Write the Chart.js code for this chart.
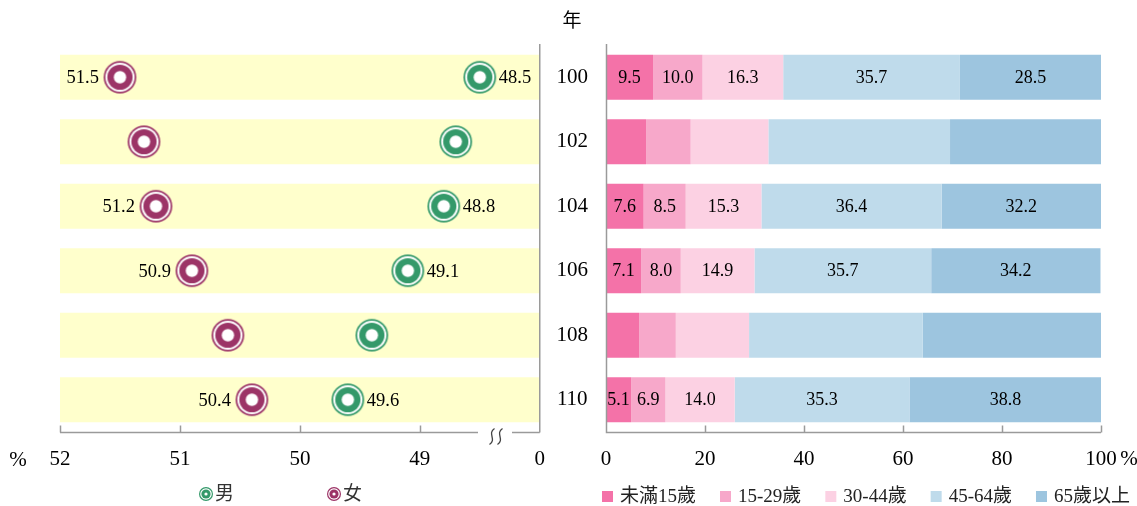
<!DOCTYPE html>
<html><head><meta charset="utf-8">
<script src="https://cdn.jsdelivr.net/npm/chart.js@4.4.1/dist/chart.umd.min.js"></script>
<style>
html,body{margin:0;padding:0;background:#fff;}
#wrap{position:relative;width:1137px;height:506px;overflow:hidden;}
#lw{position:absolute;left:0;top:0;width:560px;height:506px;}
#rw{position:absolute;left:540px;top:0;width:597px;height:506px;}
</style></head><body>
<div id="wrap"><div id="lw"><canvas id="lc"></canvas></div><div id="rw"><canvas id="rc"></canvas></div></div>
<script>
// ---------- data ----------
const years = ['100', '102', '104', '106', '108', '110'];
const sexLabels = ['男', '女'];
const maleShare = [48.5, 48.7, 48.8, 49.1, 49.4, 49.6];
const femaleShare = [51.5, 51.3, 51.2, 50.9, 50.6, 50.4];
const showShareLabel = [true, false, true, true, false, true];

const ageGroups = ['未滿15歲', '15-29歲', '30-44歲', '45-64歲', '65歲以上'];
const age0to14 = [9.5, 8.1, 7.6, 7.1, 6.7, 5.1];
const age15to29 = [10.0, 9.0, 8.5, 8.0, 7.4, 6.9];
const age30to44 = [16.3, 15.7, 15.3, 14.9, 14.8, 14.0];
const age45to64 = [35.7, 36.7, 36.4, 35.7, 35.1, 35.3];
const age65plus = [28.5, 30.5, 32.2, 34.2, 36.0, 38.8];
const showAgeLabel = [true, false, true, true, false, true];

const leftTicks = [52, 51, 50, 49, 48];   // 48 is drawn as "0" (axis break)
const rightTicks = [0, 20, 40, 60, 80, 100];

// ---------- styles ----------
const SERIF = "'Liberation Serif', 'Noto Sans CJK TC', serif";
const maleColor = '#34996a';
const femaleColor = '#9c3467';
const bandColor = '#ffffcc';
const ageColors = ['#f472a8', '#f7a8ca', '#fcd1e3', '#bfdbeb', '#9dc5df'];
const axisColor = '#9a9a9a';

function makeMarker(color, r1, r2, r3, r4) {
  const s = Math.ceil(r1 * 2 + 2);
  const c = document.createElement('canvas');
  c.width = s; c.height = s;
  const g = c.getContext('2d');
  const m = s / 2;
  [[r1, color], [r2, '#fff'], [r3, color], [r4, '#fff']].forEach(([r, col]) => {
    g.beginPath(); g.arc(m, m, r, 0, Math.PI * 2); g.fillStyle = col; g.fill();
  });
  return c;
}
const maleMarker = makeMarker(maleColor, 16.3, 14.6, 12.6, 6.2);
const femaleMarker = makeMarker(femaleColor, 16.3, 14.6, 12.6, 6.2);
const maleLegendMarker = makeMarker(maleColor, 7, 5.8, 4.6, 1.6);
const femaleLegendMarker = makeMarker(femaleColor, 7, 5.8, 4.6, 1.6);

// ---------- left chart ----------
const leftDecor = {
  id: 'leftDecor',
  afterDraw(chart) {
    const ctx = chart.ctx, a = chart.chartArea, xs = chart.scales.x;
    const y0 = Math.round(a.bottom) + 0.5;
    ctx.save();
    ctx.strokeStyle = axisColor; ctx.lineWidth = 1.5;
    // right border line
    ctx.beginPath(); ctx.moveTo(a.right, a.top - 1); ctx.lineTo(a.right, y0); ctx.stroke();
    // axis line with break
    const bx1 = 478, bx2 = 512;
    ctx.beginPath(); ctx.moveTo(a.left, y0); ctx.lineTo(bx1, y0);
    ctx.moveTo(bx2, y0); ctx.lineTo(a.right, y0); ctx.stroke();
    // ticks upward
    leftTicks.forEach(v => {
      if (v === 48) return;
      const x = Math.round(xs.getPixelForValue(v)) + 0.5;
      ctx.beginPath(); ctx.moveTo(x, y0); ctx.lineTo(x, y0 - 7); ctx.stroke();
    });
    // break marks
    ctx.strokeStyle = '#444'; ctx.lineWidth = 1.3;
    [492, 500].forEach(x => {
      ctx.beginPath(); ctx.moveTo(x + 2.5, y0 - 4);
      ctx.bezierCurveTo(x - 5, y0 + 1, x + 5, y0 + 7, x - 2.5, y0 + 12);
      ctx.stroke();
    });
    // % label
    ctx.fillStyle = '#000'; ctx.font = '21px ' + SERIF;
    ctx.textAlign = 'center'; ctx.textBaseline = 'middle';
    ctx.fillText('%', 18, 460);
    // value labels
    ctx.font = '18.5px ' + SERIF;
    const mMeta = chart.getDatasetMeta(1), fMeta = chart.getDatasetMeta(2);
    years.forEach((yr, i) => {
      if (!showShareLabel[i]) return;
      const pm = mMeta.data[i], pf = fMeta.data[i];
      ctx.textAlign = 'left'; ctx.fillText(maleShare[i].toFixed(1), pm.x + 19, pm.y + 1);
      ctx.textAlign = 'right'; ctx.fillText(femaleShare[i].toFixed(1), pf.x - 21, pf.y + 1);
    });
    // legend
    const items = [[maleLegendMarker, sexLabels[0], 206], [femaleLegendMarker, sexLabels[1], 334]];
    ctx.font = '19px ' + SERIF; ctx.fillStyle = '#333'; ctx.textAlign = 'left';
    items.forEach(([img, txt, x]) => {
      ctx.drawImage(img, x - img.width / 2, 494 - img.height / 2);
      ctx.fillText(txt, x + 9, 495);
    });
    ctx.restore();
  }
};

new Chart(document.getElementById('lc'), {
  type: 'bar',
  data: {
    labels: years,
    datasets: [
      { type: 'bar', label: 'band', data: years.map(() => [48, 52]), backgroundColor: bandColor,
        categoryPercentage: 0.7, barPercentage: 1, borderWidth: 0, order: 3 },
      { type: 'line', indexAxis: 'y', label: sexLabels[0], data: maleShare, showLine: false,
        pointStyle: maleMarker, pointRadius: 16, order: 1 },
      { type: 'line', indexAxis: 'y', label: sexLabels[1], data: femaleShare, showLine: false,
        pointStyle: femaleMarker, pointRadius: 16, order: 2 }
    ]
  },
  options: {
    indexAxis: 'y', responsive: true, maintainAspectRatio: false, animation: false,
    layout: { padding: { left: 60, right: 20, top: 45, bottom: 0 } },
    plugins: { legend: { display: false }, tooltip: { enabled: false } },
    scales: {
      x: {
        type: 'linear', reverse: true, min: 48, max: 52,
        afterBuildTicks: s => { s.ticks = leftTicks.map(v => ({ value: v })); },
        afterFit: s => { s.height = 74; },
        ticks: { callback: v => (v === 48 ? '0' : String(v)), font: { family: SERIF, size: 21 },
          color: '#000', padding: 15, maxRotation: 0, autoSkip: false },
        grid: { display: false, drawTicks: false },
        border: { display: false }
      },
      y: { type: 'category', display: false, offset: true }
    }
  },
  plugins: [leftDecor]
});

// ---------- right chart ----------
const ageSeries = [age0to14, age15to29, age30to44, age45to64, age65plus];
const rightDecor = {
  id: 'rightDecor',
  afterDraw(chart) {
    const ctx = chart.ctx, a = chart.chartArea, xs = chart.scales.x;
    const y0 = Math.round(a.bottom) + 0.5;
    ctx.save();
    ctx.strokeStyle = axisColor; ctx.lineWidth = 1.5;
    const xl = Math.round(a.left) + 0.5;
    ctx.beginPath(); ctx.moveTo(xl, a.top - 1); ctx.lineTo(xl, y0); ctx.lineTo(a.right, y0); ctx.stroke();
    rightTicks.forEach(v => {
      if (v === 0) return;
      const x = Math.round(xs.getPixelForValue(v)) + 0.5;
      ctx.beginPath(); ctx.moveTo(x, y0); ctx.lineTo(x, y0 - 7); ctx.stroke();
    });
    ctx.fillStyle = '#000'; ctx.textAlign = 'center'; ctx.textBaseline = 'middle';
    ctx.font = '21px ' + SERIF;
    ctx.fillText('%', 589, 459);
    ctx.font = '19px ' + SERIF;
    ctx.fillText('年', 32, 22);
    // bar labels
    ctx.font = '18px ' + SERIF;
    ageSeries.forEach((arr, k) => {
      const meta = chart.getDatasetMeta(k);
      years.forEach((yr, i) => {
        if (!showAgeLabel[i]) return;
        const el = meta.data[i];
        ctx.fillText(arr[i].toFixed(1), (el.x + el.base) / 2, el.y + 1);
      });
    });
    // legend
    ctx.font = '19px ' + SERIF; ctx.textAlign = 'left';
    let x = 62;
    ageGroups.forEach((g, k) => {
      ctx.fillStyle = ageColors[k];
      ctx.fillRect(x, 491, 11, 11);
      ctx.fillStyle = '#222';
      ctx.fillText(g, x + 18, 497);
      x += 18 + ctx.measureText(g).width + 24;
    });
    ctx.restore();
  }
};

new Chart(document.getElementById('rc'), {
  type: 'bar',
  data: {
    labels: years,
    datasets: ageGroups.map((g, k) => ({
      label: g, data: ageSeries[k], backgroundColor: ageColors[k], borderWidth: 0,
      categoryPercentage: 0.7, barPercentage: 1
    }))
  },
  options: {
    indexAxis: 'y', responsive: true, maintainAspectRatio: false, animation: false,
    layout: { padding: { left: 0, right: 36, top: 45, bottom: 0 } },
    plugins: { legend: { display: false }, tooltip: { enabled: false } },
    scales: {
      x: {
        stacked: true, min: 0, max: 100,
        afterBuildTicks: s => { s.ticks = rightTicks.map(v => ({ value: v })); },
        afterFit: s => { s.height = 74; },
        ticks: { font: { family: SERIF, size: 21 }, color: '#000', padding: 15, maxRotation: 0, autoSkip: false },
        grid: { display: false, drawTicks: false },
        border: { display: false }
      },
      y: {
        stacked: true, type: 'category', position: 'left',
        afterFit: s => { s.width = 66; },
        ticks: { font: { family: SERIF, size: 21 }, color: '#000', crossAlign: 'center', padding: 18 },
        grid: { display: false, drawTicks: false },
        border: { display: false }
      }
    }
  },
  plugins: [rightDecor]
});
</script>
</body></html>
